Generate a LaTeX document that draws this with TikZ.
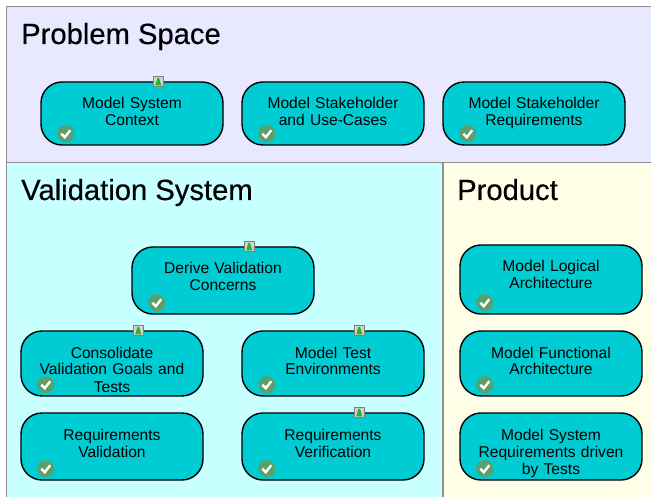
\documentclass[tikz,border=0pt]{standalone}
\usepackage{fontspec}
\setmainfont{Liberation Sans}
\usetikzlibrary{positioning}

\definecolor{problembg}{HTML}{E8E8FF}
\definecolor{validbg}{HTML}{C8FFFF}
\definecolor{productbg}{HTML}{FFFFE8}
\definecolor{taskfill}{HTML}{00CCD4}
\definecolor{okgreen}{HTML}{5B9F6B}
\definecolor{panelline}{HTML}{909090}

\tikzset{
	task/.style={draw=black, line width=1.4pt, fill=taskfill, rounded corners=21pt,
		minimum width=182pt, inner xsep=0pt, inner ysep=0pt, text width=178pt, align=center,
		font=\fontsize{15.6}{17}\selectfont, text height=27pt, text depth={#1-27pt}},
	task/.default=65pt,
	title/.style={anchor=base west, inner sep=0pt, font=\fontsize{29.2}{32}\selectfont\addfontfeature{FakeBold=0.4}},
	okmark/.style={circle, fill=okgreen, inner sep=0pt, minimum size=17pt,
		path picture={\draw[white, line width=2.4pt]
			([xshift=-4.5pt,yshift=0pt]path picture bounding box.center)
			-- ([xshift=-1pt,yshift=-3.5pt]path picture bounding box.center)
			-- ([xshift=4.5pt,yshift=3.5pt]path picture bounding box.center);}},
	docmark/.style={draw=gray, fill=gray!35, line width=1pt, inner sep=0pt, minimum size=10.5pt,
		path picture={\fill[green!65!black!85]
			(path picture bounding box.south west) ++(2.2pt,1.2pt) -- ++(6pt,0pt) -- ++(-2.2pt,7.5pt) -- ++(-1.6pt,0pt) -- cycle;}}
}

\begin{document}
\begin{tikzpicture}[x=1pt,y=-1pt,node distance=201pt,on grid]
	\useasboundingbox (0,0) rectangle (651,497);

% Panels
	\fill[problembg] (6.5,6.5) rectangle (651,162.5);
	\fill[validbg] (6.5,162.5) rectangle (443,497);
	\fill[productbg] (443,162.5) rectangle (651,497);
	\draw[panelline, line width=1.4pt] (6.5,497) -- (6.5,6.5) -- (651,6.5);
	\draw[panelline, line width=1.4pt] (6.5,162.5) -- (651,162.5);
	\draw[panelline, line width=1.4pt] (443,162.5) -- (443,497);

	\node (problem_title)	[title] at (21,44)		{Problem Space};
	\node (valid_title)		[title] at (21,200)		{Validation System};
	\node (product_title)	[title] at (457,200)	{Product};

% Task nodes
	\node (sys_context)		[task=63pt] at (132,113.5)			{Model System \\ Context};
	\node (stake_usecase)	[task=63pt, right=of sys_context]	{Model Stakeholder \\ and Use-Cases};
	\node (stake_req)		[task=63pt, right=of stake_usecase]	{Model Stakeholder \\ Requirements};

	\node (derive)			[task=67pt, below right=167pt and 91pt of sys_context]	{Derive Validation \\ Concerns};
	\node (consolidate)		[task, below left=83pt and 111pt of derive]				{Consolidate \\ Validation Goals and \\ Tests};
	\node (test_env)		[task, right=221pt of consolidate]						{Model Test \\ Environments};
	\node (req_valid)		[task=67pt, below=83pt of consolidate]					{Requirements \\ Validation};
	\node (req_verif)		[task=67pt, below=83pt of test_env]						{Requirements \\ Verification};

	\node (logical)			[task=69pt, below right=166pt and 17pt of stake_req]	{Model Logical \\ Architecture};
	\node (functional)		[task, below=84pt of logical]							{Model Functional \\ Architecture};
	\node (sys_req)			[task=67pt, below=83pt of functional]					{Model System \\ Requirements driven \\ by Tests};

% Check marks
	\node (sys_context_ok)		[okmark, xshift=25.5pt, yshift=12pt] at (sys_context.south west)	{};
	\node (stake_usecase_ok)	[okmark, xshift=25.5pt, yshift=12pt] at (stake_usecase.south west)	{};
	\node (stake_req_ok)		[okmark, xshift=25.5pt, yshift=12pt] at (stake_req.south west)		{};
	\node (derive_ok)			[okmark, xshift=25.5pt, yshift=12pt] at (derive.south west)			{};
	\node (consolidate_ok)		[okmark, xshift=25.5pt, yshift=12pt] at (consolidate.south west)	{};
	\node (test_env_ok)			[okmark, xshift=25.5pt, yshift=12pt] at (test_env.south west)		{};
	\node (req_valid_ok)		[okmark, xshift=25.5pt, yshift=12pt] at (req_valid.south west)		{};
	\node (req_verif_ok)		[okmark, xshift=25.5pt, yshift=12pt] at (req_verif.south west)		{};
	\node (logical_ok)			[okmark, xshift=25.5pt, yshift=12pt] at (logical.south west)		{};
	\node (functional_ok)		[okmark, xshift=25.5pt, yshift=12pt] at (functional.south west)		{};
	\node (sys_req_ok)			[okmark, xshift=25.5pt, yshift=12pt] at (sys_req.south west)		{};

% Document marks
	\node (sys_context_doc)	[docmark, xshift=118pt] at (sys_context.north west)	{};
	\node (derive_doc)		[docmark, xshift=118pt] at (derive.north west)		{};
	\node (consolidate_doc)	[docmark, xshift=118pt] at (consolidate.north west)	{};
	\node (test_env_doc)	[docmark, xshift=118pt] at (test_env.north west)	{};
	\node (req_verif_doc)	[docmark, xshift=118pt] at (req_verif.north west)	{};
\end{tikzpicture}
\end{document}
